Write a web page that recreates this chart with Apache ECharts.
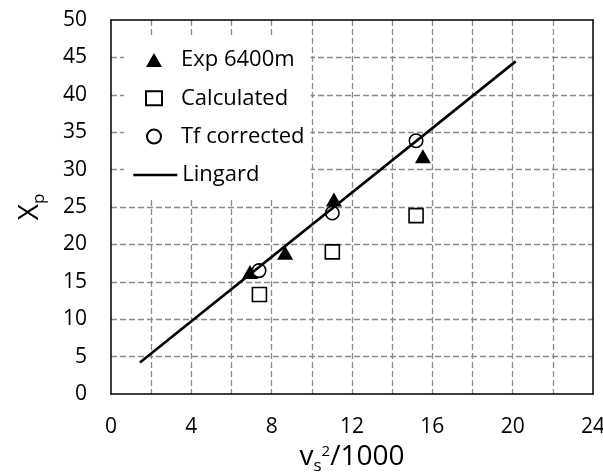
<!DOCTYPE html>
<html>
<head>
<meta charset="utf-8">
<script src="https://cdn.jsdelivr.net/npm/echarts@6/dist/echarts.min.js"></script>
<style>
html,body{margin:0;padding:0;background:#fff;}
#chart{width:603px;height:474px;}
</style>
</head>
<body>
<div id="chart"></div>
<script>
// ---- data ----
const expX = [6.92, 8.67, 11.1, 15.53];
const expY = [16.3, 18.9, 26.0, 31.8];
const calcX = [7.39, 11.02, 15.19];
const calcY = [13.3, 19.0, 23.85];
const tfX = [7.37, 11.02, 15.19];
const tfY = [16.5, 24.2, 33.86];
const lingardX = [1.44, 20.15];
const lingardY = [4.22, 44.47];
const xTickLabels = [0, 4, 8, 12, 16, 20, 24];
const yTickLabels = [0, 5, 10, 15, 20, 25, 30, 35, 40, 45, 50];
const seriesNames = ['Exp 6400m', 'Calculated', 'Tf corrected', 'Lingard'];

const FONT = 'Open Sans';
const pairs = (xs, ys) => xs.map((x, i) => [x, ys[i]]);

const gridLine = {show: true, showMinLine: false, showMaxLine: false,
  lineStyle: {color: '#8a8a8a', width: 1.3, type: [6, 3]}};

const chart = echarts.init(document.getElementById('chart'), null, {renderer: 'canvas'});
chart.setOption({
  backgroundColor: '#fff',
  animation: false,
  grid: {left: 111, right: 10, top: 20, bottom: 80, containLabel: false, outerBoundsMode: 'none'},
  xAxis: [{
    type: 'value', min: 0, max: 24, interval: 2, position: 'bottom',
    axisLine: {show: true, onZero: false, lineStyle: {color: '#000', width: 1.5}},
    axisTick: {show: false},
    axisLabel: {
      margin: 23, color: '#000', fontSize: 21, fontFamily: FONT,
      formatter: v => xTickLabels.indexOf(v) >= 0 ? String(v) : ''
    },
    splitLine: gridLine,
    name: 'v{s|s}{t|2}/1000',
    nameLocation: 'middle', nameGap: 45,
    nameTextStyle: {
      color: '#000', fontSize: 28, fontFamily: FONT,
      rich: {
        s: {fontSize: 17, fontFamily: FONT, color: '#000', padding: [18, 0, 0, 0]},
        t: {fontSize: 15, fontFamily: FONT, color: '#000', padding: [0, 0, 10, 0]}
      }
    }
  }, {
    type: 'value', min: 0, max: 24, interval: 2, position: 'top',
    axisLine: {show: true, onZero: false, lineStyle: {color: '#000', width: 1.5}},
    axisTick: {show: false}, axisLabel: {show: false}, splitLine: {show: false}
  }],
  yAxis: [{
    type: 'value', min: 0, max: 50, interval: 5, position: 'left',
    axisLine: {show: true, onZero: false, lineStyle: {color: '#000', width: 1.5}},
    axisTick: {show: false},
    axisLabel: {
      margin: 24, color: '#000', fontSize: 21, fontFamily: FONT,
      formatter: v => yTickLabels.indexOf(v) >= 0 ? String(v) : ''
    },
    splitLine: gridLine,
    name: 'X{p|p}',
    nameLocation: 'middle', nameGap: 63, nameRotate: 90,
    nameTextStyle: {
      color: '#000', fontSize: 28, fontFamily: FONT,
      rich: {p: {fontSize: 17, fontFamily: FONT, color: '#000', padding: [18, 0, 0, 0]}}
    }
  }, {
    type: 'value', min: 0, max: 50, interval: 5, position: 'right',
    axisLine: {show: true, onZero: false, lineStyle: {color: '#000', width: 1.5}},
    axisTick: {show: false}, axisLabel: {show: false}, splitLine: {show: false}
  }],
  legend: [{
    data: seriesNames.slice(0, 3),
    orient: 'vertical', left: 124, top: 37,
    padding: [12, 6, 50, 21],
    backgroundColor: '#fff',
    itemWidth: 16, itemHeight: 14, itemGap: 16.3,
    textStyle: {color: '#000', fontSize: 22, fontFamily: FONT, lineHeight: 20, padding: [0, 0, 0, 14]},
    z: 4
  }, {
    data: [seriesNames[3]],
    orient: 'vertical', left: 132, top: 164,
    padding: 0,
    itemWidth: 44, itemHeight: 14,
    itemStyle: {opacity: 0},
    lineStyle: {color: '#000', width: 2.6, opacity: 1},
    textStyle: {color: '#000', fontSize: 22, fontFamily: FONT, lineHeight: 20},
    z: 5
  }],
  series: [{
    name: seriesNames[0], type: 'scatter', data: pairs(expX, expY),
    symbol: 'triangle', symbolSize: [16, 14],
    itemStyle: {color: '#000', opacity: 1}
  }, {
    name: seriesNames[1], type: 'scatter', data: pairs(calcX, calcY),
    symbol: 'rect', symbolSize: 14,
    itemStyle: {color: '#fff', borderColor: '#000', borderWidth: 1.6, opacity: 1}
  }, {
    name: seriesNames[2], type: 'scatter', data: pairs(tfX, tfY),
    symbol: 'circle', symbolSize: 13.5,
    itemStyle: {color: '#fff', borderColor: '#000', borderWidth: 1.6, opacity: 1}
  }, {
    name: seriesNames[3], type: 'line', data: pairs(lingardX, lingardY),
    symbol: 'none', lineStyle: {color: '#000', width: 2.6},
    itemStyle: {color: '#000'}
  }]
});
</script>
</body>
</html>
